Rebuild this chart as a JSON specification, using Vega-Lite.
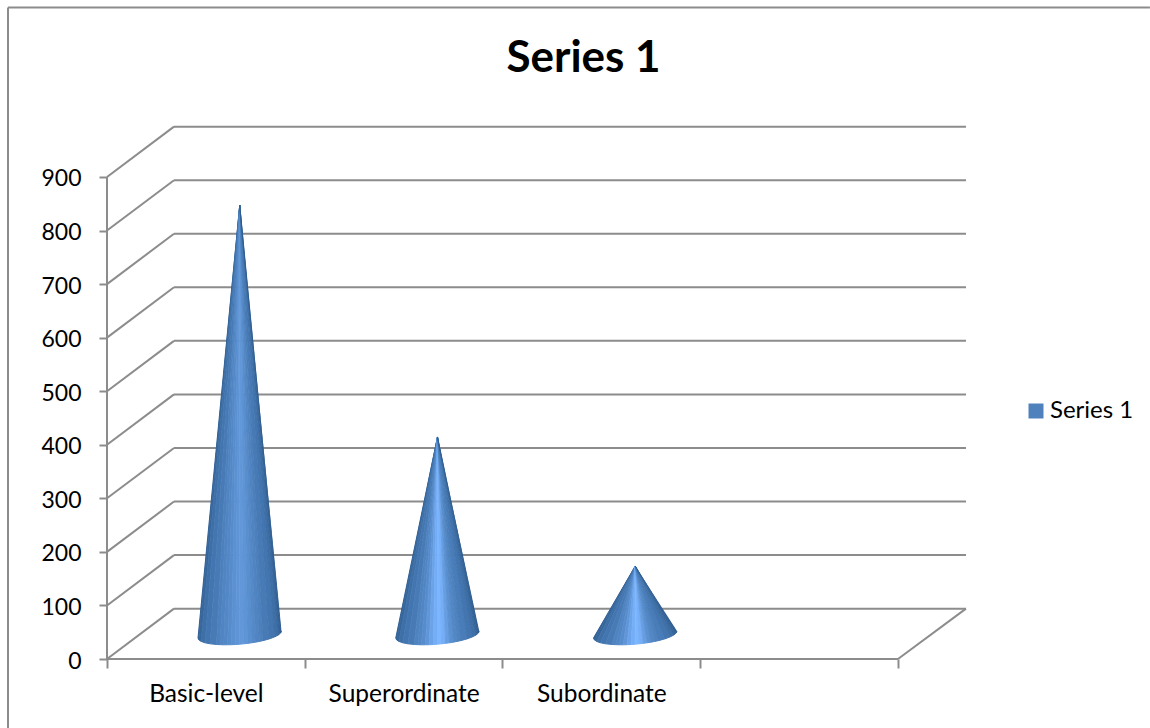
{
"$schema":"https://vega.github.io/schema/vega-lite/v6.json",
"width":859,"height":532,
"autosize":{"type":"none"},
"padding":{"left":107,"top":127,"right":184,"bottom":69},
"background":"white",
"config":{"view":{"stroke":null},"font":"Lato"},
"title":{"text":"Series 1","font":"Lato","fontSize":44,"fontWeight":"bold","color":"#000000","anchor":"middle","dx":47,"offset":-74},
"datasets":{
"frame":[
{"part":"chart border top","slot":-0.5006,"level":1216.4,"slot2":5.274,"level2":1216.4},
{"part":"chart border left","slot":-0.5006,"level":1216.4,"slot2":-0.5006,"level2":-129},
{"part":"value axis","slot":0,"level":0,"slot2":0,"level2":900},
{"part":"floor front","slot":0,"level":0,"slot2":4,"level2":0},
{"part":"floor side","slot":4,"level":0,"slot2":4.3439,"level2":94},
{"part":"side","slot":0,"level":0,"slot2":0.3388,"level2":94},
{"part":"side","slot":0,"level":100,"slot2":0.3388,"level2":194},
{"part":"side","slot":0,"level":200,"slot2":0.3388,"level2":294},
{"part":"side","slot":0,"level":300,"slot2":0.3388,"level2":394},
{"part":"side","slot":0,"level":400,"slot2":0.3388,"level2":494},
{"part":"side","slot":0,"level":500,"slot2":0.3388,"level2":594},
{"part":"side","slot":0,"level":600,"slot2":0.3388,"level2":694},
{"part":"side","slot":0,"level":700,"slot2":0.3388,"level2":794},
{"part":"side","slot":0,"level":800,"slot2":0.3388,"level2":894},
{"part":"side","slot":0,"level":900,"slot2":0.3388,"level2":994},
{"part":"back","slot":0.3388,"level":94,"slot2":4.3439,"level2":94},
{"part":"back","slot":0.3388,"level":194,"slot2":4.3439,"level2":194},
{"part":"back","slot":0.3388,"level":294,"slot2":4.3439,"level2":294},
{"part":"back","slot":0.3388,"level":394,"slot2":4.3439,"level2":394},
{"part":"back","slot":0.3388,"level":494,"slot2":4.3439,"level2":494},
{"part":"back","slot":0.3388,"level":594,"slot2":4.3439,"level2":594},
{"part":"back","slot":0.3388,"level":694,"slot2":4.3439,"level2":694},
{"part":"back","slot":0.3388,"level":794,"slot2":4.3439,"level2":794},
{"part":"back","slot":0.3388,"level":894,"slot2":4.3439,"level2":894},
{"part":"back","slot":0.3388,"level":994,"slot2":4.3439,"level2":994}
],
"tips":[
{"series":"Series 1","category":"Basic-level","slot":0.6713,"level":847.6},
{"series":"Series 1","category":"Superordinate","slot":1.6713,"level":414.5},
{"series":"Series 1","category":"Subordinate","slot":2.6713,"level":173.6}
],
"cones":[
{"cone":"Basic-level","wedge":0,"seq":0,"slot":0.6713,"level":847.6,"shade":0.05},{"cone":"Basic-level","wedge":0,"seq":1,"slot":0.4602,"level":39.2,"shade":0.05},{"cone":"Basic-level","wedge":0,"seq":2,"slot":0.4642,"level":35.8,"shade":0.05},
{"cone":"Basic-level","wedge":1,"seq":0,"slot":0.6713,"level":847.6,"shade":0.12},{"cone":"Basic-level","wedge":1,"seq":1,"slot":0.4642,"level":35.8,"shade":0.12},{"cone":"Basic-level","wedge":1,"seq":2,"slot":0.4762,"level":32.8,"shade":0.12},
{"cone":"Basic-level","wedge":2,"seq":0,"slot":0.6713,"level":847.6,"shade":0.22},{"cone":"Basic-level","wedge":2,"seq":1,"slot":0.4762,"level":32.8,"shade":0.22},{"cone":"Basic-level","wedge":2,"seq":2,"slot":0.4958,"level":30.2,"shade":0.22},
{"cone":"Basic-level","wedge":3,"seq":0,"slot":0.6713,"level":847.6,"shade":0.3},{"cone":"Basic-level","wedge":3,"seq":1,"slot":0.4958,"level":30.2,"shade":0.3},{"cone":"Basic-level","wedge":3,"seq":2,"slot":0.522,"level":28.3,"shade":0.3},
{"cone":"Basic-level","wedge":4,"seq":0,"slot":0.6713,"level":847.6,"shade":0.36},{"cone":"Basic-level","wedge":4,"seq":1,"slot":0.522,"level":28.3,"shade":0.36},{"cone":"Basic-level","wedge":4,"seq":2,"slot":0.5539,"level":27.1,"shade":0.36},
{"cone":"Basic-level","wedge":5,"seq":0,"slot":0.6713,"level":847.6,"shade":0.42},{"cone":"Basic-level","wedge":5,"seq":1,"slot":0.5539,"level":27.1,"shade":0.42},{"cone":"Basic-level","wedge":5,"seq":2,"slot":0.5722,"level":26.8,"shade":0.42},
{"cone":"Basic-level","wedge":6,"seq":0,"slot":0.6713,"level":847.6,"shade":0.46},{"cone":"Basic-level","wedge":6,"seq":1,"slot":0.5722,"level":26.8,"shade":0.46},{"cone":"Basic-level","wedge":6,"seq":2,"slot":0.5904,"level":26.5,"shade":0.46},
{"cone":"Basic-level","wedge":7,"seq":0,"slot":0.6713,"level":847.6,"shade":0.5},{"cone":"Basic-level","wedge":7,"seq":1,"slot":0.5904,"level":26.5,"shade":0.5},{"cone":"Basic-level","wedge":7,"seq":2,"slot":0.6103,"level":26.6,"shade":0.5},
{"cone":"Basic-level","wedge":8,"seq":0,"slot":0.6713,"level":847.6,"shade":0.55},{"cone":"Basic-level","wedge":8,"seq":1,"slot":0.6103,"level":26.6,"shade":0.55},{"cone":"Basic-level","wedge":8,"seq":2,"slot":0.6301,"level":26.7,"shade":0.55},
{"cone":"Basic-level","wedge":9,"seq":0,"slot":0.6713,"level":847.6,"shade":0.6},{"cone":"Basic-level","wedge":9,"seq":1,"slot":0.6301,"level":26.7,"shade":0.6},{"cone":"Basic-level","wedge":9,"seq":2,"slot":0.6507,"level":27.1,"shade":0.6},
{"cone":"Basic-level","wedge":10,"seq":0,"slot":0.6713,"level":847.6,"shade":0.65},{"cone":"Basic-level","wedge":10,"seq":1,"slot":0.6507,"level":27.1,"shade":0.65},{"cone":"Basic-level","wedge":10,"seq":2,"slot":0.6713,"level":27.6,"shade":0.65},
{"cone":"Basic-level","wedge":11,"seq":0,"slot":0.6713,"level":847.6,"shade":0.68},{"cone":"Basic-level","wedge":11,"seq":1,"slot":0.6713,"level":27.6,"shade":0.68},{"cone":"Basic-level","wedge":11,"seq":2,"slot":0.6919,"level":28.4,"shade":0.68},
{"cone":"Basic-level","wedge":12,"seq":0,"slot":0.6713,"level":847.6,"shade":0.64},{"cone":"Basic-level","wedge":12,"seq":1,"slot":0.6919,"level":28.4,"shade":0.64},{"cone":"Basic-level","wedge":12,"seq":2,"slot":0.7125,"level":29.2,"shade":0.64},
{"cone":"Basic-level","wedge":13,"seq":0,"slot":0.6713,"level":847.6,"shade":0.58},{"cone":"Basic-level","wedge":13,"seq":1,"slot":0.7125,"level":29.2,"shade":0.58},{"cone":"Basic-level","wedge":13,"seq":2,"slot":0.7324,"level":30.3,"shade":0.58},
{"cone":"Basic-level","wedge":14,"seq":0,"slot":0.6713,"level":847.6,"shade":0.52},{"cone":"Basic-level","wedge":14,"seq":1,"slot":0.7324,"level":30.3,"shade":0.52},{"cone":"Basic-level","wedge":14,"seq":2,"slot":0.7522,"level":31.5,"shade":0.52},
{"cone":"Basic-level","wedge":15,"seq":0,"slot":0.6713,"level":847.6,"shade":0.46},{"cone":"Basic-level","wedge":15,"seq":1,"slot":0.7522,"level":31.5,"shade":0.46},{"cone":"Basic-level","wedge":15,"seq":2,"slot":0.7705,"level":32.9,"shade":0.46},
{"cone":"Basic-level","wedge":16,"seq":0,"slot":0.6713,"level":847.6,"shade":0.42},{"cone":"Basic-level","wedge":16,"seq":1,"slot":0.7705,"level":32.9,"shade":0.42},{"cone":"Basic-level","wedge":16,"seq":2,"slot":0.7887,"level":34.3,"shade":0.42},
{"cone":"Basic-level","wedge":17,"seq":0,"slot":0.6713,"level":847.6,"shade":0.36},{"cone":"Basic-level","wedge":17,"seq":1,"slot":0.7887,"level":34.3,"shade":0.36},{"cone":"Basic-level","wedge":17,"seq":2,"slot":0.8206,"level":37.5,"shade":0.36},
{"cone":"Basic-level","wedge":18,"seq":0,"slot":0.6713,"level":847.6,"shade":0.3},{"cone":"Basic-level","wedge":18,"seq":1,"slot":0.8206,"level":37.5,"shade":0.3},{"cone":"Basic-level","wedge":18,"seq":2,"slot":0.8468,"level":41.1,"shade":0.3},
{"cone":"Basic-level","wedge":19,"seq":0,"slot":0.6713,"level":847.6,"shade":0.22},{"cone":"Basic-level","wedge":19,"seq":1,"slot":0.8468,"level":41.1,"shade":0.22},{"cone":"Basic-level","wedge":19,"seq":2,"slot":0.8664,"level":44.8,"shade":0.22},
{"cone":"Basic-level","wedge":20,"seq":0,"slot":0.6713,"level":847.6,"shade":0.12},{"cone":"Basic-level","wedge":20,"seq":1,"slot":0.8664,"level":44.8,"shade":0.12},{"cone":"Basic-level","wedge":20,"seq":2,"slot":0.8784,"level":48.6,"shade":0.12},
{"cone":"Basic-level","wedge":21,"seq":0,"slot":0.6713,"level":847.6,"shade":0.02},{"cone":"Basic-level","wedge":21,"seq":1,"slot":0.8784,"level":48.6,"shade":0.02},{"cone":"Basic-level","wedge":21,"seq":2,"slot":0.8824,"level":52.3,"shade":0.02},

{"cone":"Superordinate","wedge":0,"seq":0,"slot":1.6713,"level":414.5,"shade":0.05},{"cone":"Superordinate","wedge":0,"seq":1,"slot":1.4602,"level":39.2,"shade":0.05},{"cone":"Superordinate","wedge":0,"seq":2,"slot":1.4642,"level":35.8,"shade":0.05},
{"cone":"Superordinate","wedge":1,"seq":0,"slot":1.6713,"level":414.5,"shade":0.12},{"cone":"Superordinate","wedge":1,"seq":1,"slot":1.4642,"level":35.8,"shade":0.12},{"cone":"Superordinate","wedge":1,"seq":2,"slot":1.4762,"level":32.8,"shade":0.12},
{"cone":"Superordinate","wedge":2,"seq":0,"slot":1.6713,"level":414.5,"shade":0.22},{"cone":"Superordinate","wedge":2,"seq":1,"slot":1.4762,"level":32.8,"shade":0.22},{"cone":"Superordinate","wedge":2,"seq":2,"slot":1.4958,"level":30.2,"shade":0.22},
{"cone":"Superordinate","wedge":3,"seq":0,"slot":1.6713,"level":414.5,"shade":0.3},{"cone":"Superordinate","wedge":3,"seq":1,"slot":1.4958,"level":30.2,"shade":0.3},{"cone":"Superordinate","wedge":3,"seq":2,"slot":1.522,"level":28.3,"shade":0.3},
{"cone":"Superordinate","wedge":4,"seq":0,"slot":1.6713,"level":414.5,"shade":0.36},{"cone":"Superordinate","wedge":4,"seq":1,"slot":1.522,"level":28.3,"shade":0.36},{"cone":"Superordinate","wedge":4,"seq":2,"slot":1.5539,"level":27.1,"shade":0.36},
{"cone":"Superordinate","wedge":5,"seq":0,"slot":1.6713,"level":414.5,"shade":0.44},{"cone":"Superordinate","wedge":5,"seq":1,"slot":1.5539,"level":27.1,"shade":0.44},{"cone":"Superordinate","wedge":5,"seq":2,"slot":1.5722,"level":26.8,"shade":0.44},
{"cone":"Superordinate","wedge":6,"seq":0,"slot":1.6713,"level":414.5,"shade":0.48},{"cone":"Superordinate","wedge":6,"seq":1,"slot":1.5722,"level":26.8,"shade":0.48},{"cone":"Superordinate","wedge":6,"seq":2,"slot":1.5904,"level":26.5,"shade":0.48},
{"cone":"Superordinate","wedge":7,"seq":0,"slot":1.6713,"level":414.5,"shade":0.55},{"cone":"Superordinate","wedge":7,"seq":1,"slot":1.5904,"level":26.5,"shade":0.55},{"cone":"Superordinate","wedge":7,"seq":2,"slot":1.6103,"level":26.6,"shade":0.55},
{"cone":"Superordinate","wedge":8,"seq":0,"slot":1.6713,"level":414.5,"shade":0.66},{"cone":"Superordinate","wedge":8,"seq":1,"slot":1.6103,"level":26.6,"shade":0.66},{"cone":"Superordinate","wedge":8,"seq":2,"slot":1.6301,"level":26.7,"shade":0.66},
{"cone":"Superordinate","wedge":9,"seq":0,"slot":1.6713,"level":414.5,"shade":0.8},{"cone":"Superordinate","wedge":9,"seq":1,"slot":1.6301,"level":26.7,"shade":0.8},{"cone":"Superordinate","wedge":9,"seq":2,"slot":1.6507,"level":27.1,"shade":0.8},
{"cone":"Superordinate","wedge":10,"seq":0,"slot":1.6713,"level":414.5,"shade":0.92},{"cone":"Superordinate","wedge":10,"seq":1,"slot":1.6507,"level":27.1,"shade":0.92},{"cone":"Superordinate","wedge":10,"seq":2,"slot":1.6713,"level":27.6,"shade":0.92},
{"cone":"Superordinate","wedge":11,"seq":0,"slot":1.6713,"level":414.5,"shade":1},{"cone":"Superordinate","wedge":11,"seq":1,"slot":1.6713,"level":27.6,"shade":1},{"cone":"Superordinate","wedge":11,"seq":2,"slot":1.6919,"level":28.4,"shade":1},
{"cone":"Superordinate","wedge":12,"seq":0,"slot":1.6713,"level":414.5,"shade":0.92},{"cone":"Superordinate","wedge":12,"seq":1,"slot":1.6919,"level":28.4,"shade":0.92},{"cone":"Superordinate","wedge":12,"seq":2,"slot":1.7125,"level":29.2,"shade":0.92},
{"cone":"Superordinate","wedge":13,"seq":0,"slot":1.6713,"level":414.5,"shade":0.74},{"cone":"Superordinate","wedge":13,"seq":1,"slot":1.7125,"level":29.2,"shade":0.74},{"cone":"Superordinate","wedge":13,"seq":2,"slot":1.7324,"level":30.3,"shade":0.74},
{"cone":"Superordinate","wedge":14,"seq":0,"slot":1.6713,"level":414.5,"shade":0.6},{"cone":"Superordinate","wedge":14,"seq":1,"slot":1.7324,"level":30.3,"shade":0.6},{"cone":"Superordinate","wedge":14,"seq":2,"slot":1.7522,"level":31.5,"shade":0.6},
{"cone":"Superordinate","wedge":15,"seq":0,"slot":1.6713,"level":414.5,"shade":0.5},{"cone":"Superordinate","wedge":15,"seq":1,"slot":1.7522,"level":31.5,"shade":0.5},{"cone":"Superordinate","wedge":15,"seq":2,"slot":1.7705,"level":32.9,"shade":0.5},
{"cone":"Superordinate","wedge":16,"seq":0,"slot":1.6713,"level":414.5,"shade":0.44},{"cone":"Superordinate","wedge":16,"seq":1,"slot":1.7705,"level":32.9,"shade":0.44},{"cone":"Superordinate","wedge":16,"seq":2,"slot":1.7887,"level":34.3,"shade":0.44},
{"cone":"Superordinate","wedge":17,"seq":0,"slot":1.6713,"level":414.5,"shade":0.38},{"cone":"Superordinate","wedge":17,"seq":1,"slot":1.7887,"level":34.3,"shade":0.38},{"cone":"Superordinate","wedge":17,"seq":2,"slot":1.8206,"level":37.5,"shade":0.38},
{"cone":"Superordinate","wedge":18,"seq":0,"slot":1.6713,"level":414.5,"shade":0.3},{"cone":"Superordinate","wedge":18,"seq":1,"slot":1.8206,"level":37.5,"shade":0.3},{"cone":"Superordinate","wedge":18,"seq":2,"slot":1.8468,"level":41.1,"shade":0.3},
{"cone":"Superordinate","wedge":19,"seq":0,"slot":1.6713,"level":414.5,"shade":0.22},{"cone":"Superordinate","wedge":19,"seq":1,"slot":1.8468,"level":41.1,"shade":0.22},{"cone":"Superordinate","wedge":19,"seq":2,"slot":1.8664,"level":44.8,"shade":0.22},
{"cone":"Superordinate","wedge":20,"seq":0,"slot":1.6713,"level":414.5,"shade":0.12},{"cone":"Superordinate","wedge":20,"seq":1,"slot":1.8664,"level":44.8,"shade":0.12},{"cone":"Superordinate","wedge":20,"seq":2,"slot":1.8784,"level":48.6,"shade":0.12},
{"cone":"Superordinate","wedge":21,"seq":0,"slot":1.6713,"level":414.5,"shade":0.02},{"cone":"Superordinate","wedge":21,"seq":1,"slot":1.8784,"level":48.6,"shade":0.02},{"cone":"Superordinate","wedge":21,"seq":2,"slot":1.8824,"level":52.3,"shade":0.02},

{"cone":"Subordinate","wedge":0,"seq":0,"slot":2.6713,"level":173.6,"shade":0.05},{"cone":"Subordinate","wedge":0,"seq":1,"slot":2.4602,"level":39.2,"shade":0.05},{"cone":"Subordinate","wedge":0,"seq":2,"slot":2.4642,"level":35.8,"shade":0.05},
{"cone":"Subordinate","wedge":1,"seq":0,"slot":2.6713,"level":173.6,"shade":0.12},{"cone":"Subordinate","wedge":1,"seq":1,"slot":2.4642,"level":35.8,"shade":0.12},{"cone":"Subordinate","wedge":1,"seq":2,"slot":2.4762,"level":32.8,"shade":0.12},
{"cone":"Subordinate","wedge":2,"seq":0,"slot":2.6713,"level":173.6,"shade":0.22},{"cone":"Subordinate","wedge":2,"seq":1,"slot":2.4762,"level":32.8,"shade":0.22},{"cone":"Subordinate","wedge":2,"seq":2,"slot":2.4958,"level":30.2,"shade":0.22},
{"cone":"Subordinate","wedge":3,"seq":0,"slot":2.6713,"level":173.6,"shade":0.3},{"cone":"Subordinate","wedge":3,"seq":1,"slot":2.4958,"level":30.2,"shade":0.3},{"cone":"Subordinate","wedge":3,"seq":2,"slot":2.522,"level":28.3,"shade":0.3},
{"cone":"Subordinate","wedge":4,"seq":0,"slot":2.6713,"level":173.6,"shade":0.36},{"cone":"Subordinate","wedge":4,"seq":1,"slot":2.522,"level":28.3,"shade":0.36},{"cone":"Subordinate","wedge":4,"seq":2,"slot":2.5539,"level":27.1,"shade":0.36},
{"cone":"Subordinate","wedge":5,"seq":0,"slot":2.6713,"level":173.6,"shade":0.44},{"cone":"Subordinate","wedge":5,"seq":1,"slot":2.5539,"level":27.1,"shade":0.44},{"cone":"Subordinate","wedge":5,"seq":2,"slot":2.5722,"level":26.8,"shade":0.44},
{"cone":"Subordinate","wedge":6,"seq":0,"slot":2.6713,"level":173.6,"shade":0.48},{"cone":"Subordinate","wedge":6,"seq":1,"slot":2.5722,"level":26.8,"shade":0.48},{"cone":"Subordinate","wedge":6,"seq":2,"slot":2.5904,"level":26.5,"shade":0.48},
{"cone":"Subordinate","wedge":7,"seq":0,"slot":2.6713,"level":173.6,"shade":0.55},{"cone":"Subordinate","wedge":7,"seq":1,"slot":2.5904,"level":26.5,"shade":0.55},{"cone":"Subordinate","wedge":7,"seq":2,"slot":2.6103,"level":26.6,"shade":0.55},
{"cone":"Subordinate","wedge":8,"seq":0,"slot":2.6713,"level":173.6,"shade":0.66},{"cone":"Subordinate","wedge":8,"seq":1,"slot":2.6103,"level":26.6,"shade":0.66},{"cone":"Subordinate","wedge":8,"seq":2,"slot":2.6301,"level":26.7,"shade":0.66},
{"cone":"Subordinate","wedge":9,"seq":0,"slot":2.6713,"level":173.6,"shade":0.8},{"cone":"Subordinate","wedge":9,"seq":1,"slot":2.6301,"level":26.7,"shade":0.8},{"cone":"Subordinate","wedge":9,"seq":2,"slot":2.6507,"level":27.1,"shade":0.8},
{"cone":"Subordinate","wedge":10,"seq":0,"slot":2.6713,"level":173.6,"shade":0.92},{"cone":"Subordinate","wedge":10,"seq":1,"slot":2.6507,"level":27.1,"shade":0.92},{"cone":"Subordinate","wedge":10,"seq":2,"slot":2.6713,"level":27.6,"shade":0.92},
{"cone":"Subordinate","wedge":11,"seq":0,"slot":2.6713,"level":173.6,"shade":1},{"cone":"Subordinate","wedge":11,"seq":1,"slot":2.6713,"level":27.6,"shade":1},{"cone":"Subordinate","wedge":11,"seq":2,"slot":2.6919,"level":28.4,"shade":1},
{"cone":"Subordinate","wedge":12,"seq":0,"slot":2.6713,"level":173.6,"shade":0.92},{"cone":"Subordinate","wedge":12,"seq":1,"slot":2.6919,"level":28.4,"shade":0.92},{"cone":"Subordinate","wedge":12,"seq":2,"slot":2.7125,"level":29.2,"shade":0.92},
{"cone":"Subordinate","wedge":13,"seq":0,"slot":2.6713,"level":173.6,"shade":0.74},{"cone":"Subordinate","wedge":13,"seq":1,"slot":2.7125,"level":29.2,"shade":0.74},{"cone":"Subordinate","wedge":13,"seq":2,"slot":2.7324,"level":30.3,"shade":0.74},
{"cone":"Subordinate","wedge":14,"seq":0,"slot":2.6713,"level":173.6,"shade":0.6},{"cone":"Subordinate","wedge":14,"seq":1,"slot":2.7324,"level":30.3,"shade":0.6},{"cone":"Subordinate","wedge":14,"seq":2,"slot":2.7522,"level":31.5,"shade":0.6},
{"cone":"Subordinate","wedge":15,"seq":0,"slot":2.6713,"level":173.6,"shade":0.5},{"cone":"Subordinate","wedge":15,"seq":1,"slot":2.7522,"level":31.5,"shade":0.5},{"cone":"Subordinate","wedge":15,"seq":2,"slot":2.7705,"level":32.9,"shade":0.5},
{"cone":"Subordinate","wedge":16,"seq":0,"slot":2.6713,"level":173.6,"shade":0.44},{"cone":"Subordinate","wedge":16,"seq":1,"slot":2.7705,"level":32.9,"shade":0.44},{"cone":"Subordinate","wedge":16,"seq":2,"slot":2.7887,"level":34.3,"shade":0.44},
{"cone":"Subordinate","wedge":17,"seq":0,"slot":2.6713,"level":173.6,"shade":0.38},{"cone":"Subordinate","wedge":17,"seq":1,"slot":2.7887,"level":34.3,"shade":0.38},{"cone":"Subordinate","wedge":17,"seq":2,"slot":2.8206,"level":37.5,"shade":0.38},
{"cone":"Subordinate","wedge":18,"seq":0,"slot":2.6713,"level":173.6,"shade":0.3},{"cone":"Subordinate","wedge":18,"seq":1,"slot":2.8206,"level":37.5,"shade":0.3},{"cone":"Subordinate","wedge":18,"seq":2,"slot":2.8468,"level":41.1,"shade":0.3},
{"cone":"Subordinate","wedge":19,"seq":0,"slot":2.6713,"level":173.6,"shade":0.22},{"cone":"Subordinate","wedge":19,"seq":1,"slot":2.8468,"level":41.1,"shade":0.22},{"cone":"Subordinate","wedge":19,"seq":2,"slot":2.8664,"level":44.8,"shade":0.22},
{"cone":"Subordinate","wedge":20,"seq":0,"slot":2.6713,"level":173.6,"shade":0.12},{"cone":"Subordinate","wedge":20,"seq":1,"slot":2.8664,"level":44.8,"shade":0.12},{"cone":"Subordinate","wedge":20,"seq":2,"slot":2.8784,"level":48.6,"shade":0.12},
{"cone":"Subordinate","wedge":21,"seq":0,"slot":2.6713,"level":173.6,"shade":0.02},{"cone":"Subordinate","wedge":21,"seq":1,"slot":2.8784,"level":48.6,"shade":0.02},{"cone":"Subordinate","wedge":21,"seq":2,"slot":2.8824,"level":52.3,"shade":0.02}
]
},
"resolve":{"axis":{"x":"independent","y":"independent"}},
"layer":[
{
"data":{"name":"frame"},
"mark":{"type":"rule","color":"#8c8c8c","strokeWidth":2,"clip":false},
"encoding":{
"x":{"field":"slot","type":"quantitative","scale":{"domain":[0,4.3439],"nice":false,"zero":false},
"axis":{"orient":"bottom","title":null,"values":[0,1,2,3,4],"labels":false,"domain":false,"grid":false,"tickSize":9,"tickWidth":2,"tickColor":"#8c8c8c"}},
"y":{"field":"level","type":"quantitative","scale":{"domain":[0,993.3],"nice":false,"zero":false},
"axis":{"orient":"left","title":null,"values":[0,100,200,300,400,500,600,700,800,900],"domain":false,"grid":false,"tickSize":8,"tickWidth":2,"tickColor":"#8c8c8c","labelFont":"Lato","labelFontSize":23,"labelColor":"#000000","labelPadding":18,"labelOffset":2}},
"x2":{"field":"slot2"},
"y2":{"field":"level2"}
}
},
{
"data":{"name":"cones"},
"mark":{"type":"line","strokeWidth":1,"clip":false,"interpolate":"linear"},
"encoding":{
"x":{"field":"slot","type":"quantitative","scale":{"domain":[0,4.3439],"nice":false,"zero":false},
"axis":{"orient":"bottom","title":null,"values":[0.5,1.5,2.5],"ticks":false,"domain":false,"grid":false,"labelFont":"Lato","labelFontSize":24.5,"labelColor":"#000000","labelPadding":23,"labelExpr":"datum.value == 0.5 ? 'Basic-level' : datum.value == 1.5 ? 'Superordinate' : 'Subordinate'"}},
"y":{"field":"level","type":"quantitative","scale":{"domain":[0,993.3],"nice":false,"zero":false},"axis":null},
"detail":[{"field":"cone"},{"field":"wedge"}],
"order":{"field":"seq","type":"quantitative"},
"fill":{"field":"shade","type":"quantitative","legend":null,"scale":{"domain":[0,0.4,1],"range":["#2d5b8e","#4b7fbb","#7cb6ff"]}},
"stroke":{"field":"shade","type":"quantitative","legend":null,"scale":{"domain":[0,0.4,1],"range":["#2d5b8e","#4b7fbb","#7cb6ff"]}}
}
},
{
"data":{"name":"tips"},
"mark":{"type":"point","filled":true,"opacity":0,"shape":"square"},
"encoding":{
"x":{"field":"slot","type":"quantitative","scale":{"domain":[0,4.3439],"nice":false,"zero":false},"axis":null},
"y":{"field":"level","type":"quantitative","scale":{"domain":[0,993.3],"nice":false,"zero":false},"axis":null},
"color":{"field":"series","type":"nominal","scale":{"range":["#4f81bd"]},
"legend":{"orient":"none","legendX":917,"legendY":272,"title":null,"symbolType":"square","symbolSize":225,"symbolOpacity":1,"symbolStrokeWidth":0,"labelFont":"Lato","labelFontSize":24,"labelColor":"#000000","labelOffset":2}}
}
}
]
}
